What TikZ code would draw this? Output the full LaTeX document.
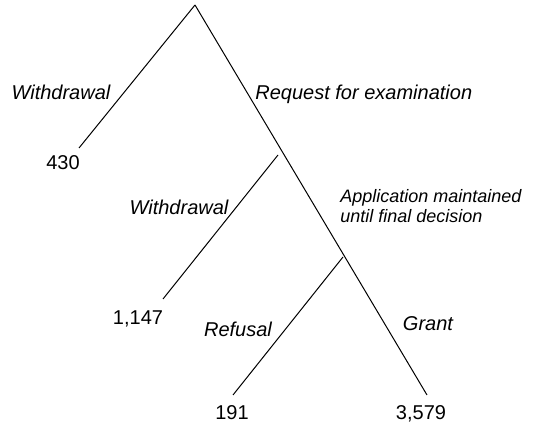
\documentclass[tikz,border=0pt]{standalone}
\usepackage{fontspec}
\setmainfont{Liberation Sans}
\usetikzlibrary{calc}
\tikzstyle{leaf}=[inner sep=0pt,anchor=base,font=\fontsize{10}{12}\selectfont]
\tikzstyle{choice}=[inner sep=0pt,font=\fontsize{10}{12}\selectfont\itshape]
\tikzstyle{smallchoice}=[inner sep=0pt,align=left,font=\fontsize{9}{10}\selectfont\itshape]
\tikzstyle{branch}=[draw,line width=0.5pt]

\begin{document}
\begin{tikzpicture}[x=0.5pt,y=-0.5pt]
    \useasboundingbox (0,0) rectangle (553,426);

    % ends of the branches
    \foreach \pos/ \name in {{(195,5)/root}, {(79,148)/wdA}, {(278,155)/forkA}, {(163,299)/wdB}, {(343,257)/forkB}, {(233,395)/refusal}, {(427,395)/grant}}
        \path \pos coordinate (\name);

    \foreach \source/ \dest in {root/wdA, root/grant, forkA/wdB, forkB/refusal}
        \path[branch] (\source) -- (\dest);

    % counts at the leaves
    \foreach \pos/ \name/ \num in {{(63,170)/nA/430}, {(138,325)/nB/{1,147}}, {(232,420)/nC/191}, {(421,420)/nD/{3,579}}}
        \node[leaf] (\name) at \pos {\num};

    \node[choice,anchor=base] (tA) at (61,100) {Withdrawal};
    \node[choice,anchor=base west] (tB) at (255,100) {Request for examination};
    \node[choice,anchor=base] (tC) at (179,215) {Withdrawal};
    \node[smallchoice,anchor=north west] (tD) at (340,189) {Application maintained\\until final decision};
    \node[choice,anchor=base] (tE) at (238,337) {Refusal};
    \node[choice,anchor=base] (tF) at (428,331) {Grant};

\end{tikzpicture}
\end{document}
